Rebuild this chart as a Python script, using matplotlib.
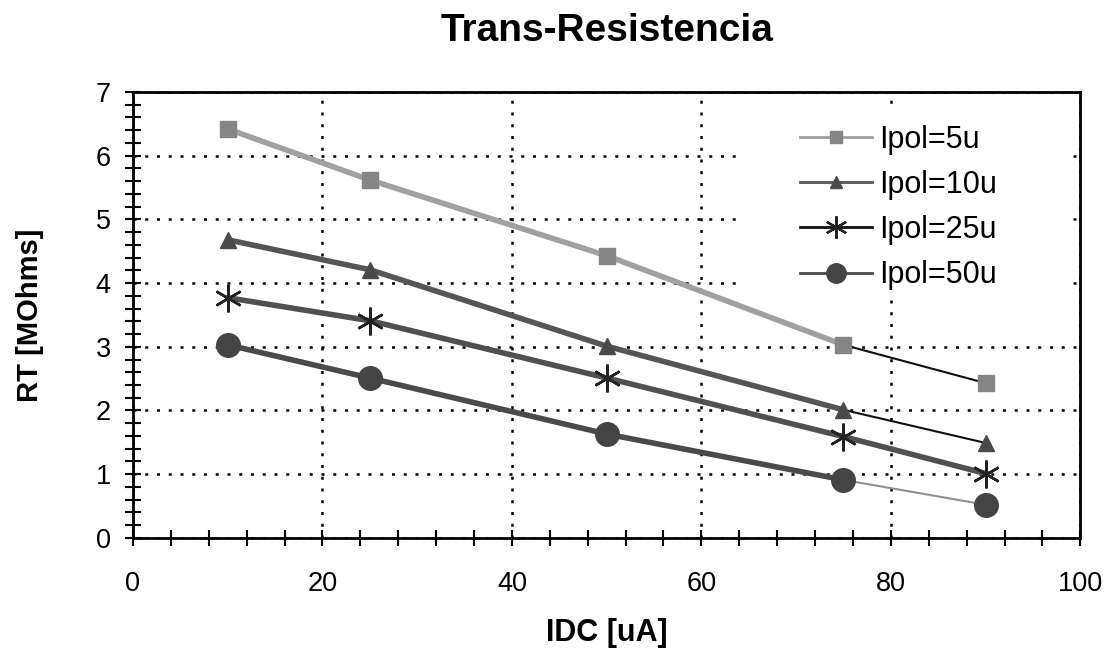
import matplotlib
matplotlib.use("Agg")
import matplotlib.pyplot as plt
from matplotlib.ticker import MultipleLocator
from matplotlib.lines import Line2D
from matplotlib.patches import Rectangle

plt.rcParams['font.family'] = ['Liberation Sans', 'DejaVu Sans']

idc = [10, 25, 50, 75, 90]
labels = ["Ipol=5u", "Ipol=10u", "Ipol=25u", "Ipol=50u"]
rt_5u = [6.42, 5.62, 4.43, 3.03, 2.43]
rt_10u = [4.68, 4.21, 3.01, 2.01, 1.49]
rt_25u = [3.77, 3.41, 2.51, 1.59, 1.01]
rt_50u = [3.03, 2.51, 1.63, 0.91, 0.52]
series = [rt_5u, rt_10u, rt_25u, rt_50u]

styles = [
    dict(lc="#a0a0a0", tail="#111111", tw=1.5, m="s", mc="#858585", ms=11, legc="#a0a0a0"),
    dict(lc="#555555", tail="#111111", tw=1.5, m="^", mc="#4a4a4a", ms=12, legc="#555555"),
    dict(lc="#505050", tail="#505050", tw=4, m=(6, 2, 0), mc="#222222", ms=20, legc="#111111"),
    dict(lc="#4a4a4a", tail="#909090", tw=1.5, m="o", mc="#444444", ms=17, legc="#4a4a4a"),
]

fig = plt.figure(figsize=(11.08, 6.48), dpi=100)
ax = fig.add_axes([0.12, 0.17, 0.855, 0.688])

handles = []
for vals, st, lab in zip(series, styles, labels):
    ax.plot(idc[:4], vals[:4], color=st["lc"], lw=4, zorder=3, solid_capstyle='round')
    ax.plot(idc[3:], vals[3:], color=st["tail"], lw=st["tw"], zorder=3)
    if st["m"] == (6, 2, 0):
        ax.plot(idc, vals, ls="none", marker=st["m"], ms=st["ms"], mec=st["mc"],
                mew=1.8, zorder=4)
        h = Line2D([], [], color=st["legc"], lw=2, marker=st["m"], ms=st["ms"] - 4,
                   mec=st["mc"], mew=1.6)
    else:
        ax.plot(idc, vals, ls="none", marker=st["m"], ms=st["ms"], mfc=st["mc"],
                mec=st["mc"], zorder=4)
        h = Line2D([], [], color=st["legc"], lw=2, marker=st["m"], ms=st["ms"] - 3,
                   mfc=st["mc"], mec=st["mc"])
    handles.append(h)

ax.set_xlim(0, 100)
ax.set_ylim(0, 7)
ax.xaxis.set_major_locator(MultipleLocator(20))
ax.xaxis.set_minor_locator(MultipleLocator(4))
ax.yaxis.set_major_locator(MultipleLocator(1))
ax.yaxis.set_minor_locator(MultipleLocator(0.2))
ax.tick_params(which='both', direction='inout', length=12, width=1.5, color='black')
ax.tick_params(axis='x', which='major', labelsize=19.5, pad=18)
ax.tick_params(axis='y', which='major', labelsize=19.5, pad=10)
ax.grid(True, which='major', color='black', linestyle=(0, (1.2, 3.5)), linewidth=1.8)
for s in ax.spines.values():
    s.set_linewidth(2)
    s.set_color('black')

ax.set_title("Trans-Resistencia", fontsize=28, fontweight='bold', pad=37)
ax.set_xlabel("IDC [uA]", fontsize=22, fontweight='bold', labelpad=15)
ax.set_ylabel("RT [MOhms]", fontsize=21, fontweight='bold', labelpad=37)

# white legend background box (covers grid like the original)
ax.add_patch(Rectangle((0.641, 0.538), 0.345, 0.433, transform=ax.transAxes,
                       facecolor='white', edgecolor='none', zorder=4.5))

leg = ax.legend(handles, labels, loc='upper left', bbox_to_anchor=(0.704, 0.927),
                fontsize=22, frameon=False, handlelength=2.35, handletextpad=0.25,
                labelspacing=0.5, borderpad=0.0, borderaxespad=0.0)
leg.set_zorder(5)

fig.savefig("out.png", dpi=100)
